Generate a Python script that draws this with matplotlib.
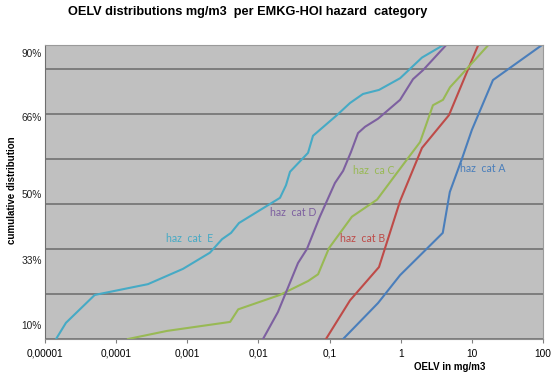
import numpy as np
import matplotlib.pyplot as plt

# OELV values (mg/m3) and cumulative distribution as normal z-score
cat_a_oelv = [0.155, 0.48, 0.98, 3.9, 4.9, 7.3, 10.0, 19.8, 97]
cat_a_z = [-1.64, -1.24, -0.93, -0.46, -0.005, 0.37, 0.685, 1.24, 1.63]

cat_b_oelv = [0.089, 0.194, 0.495, 0.98, 1.99, 4.77, 9.4, 12.6]
cat_b_z = [-1.64, -1.21, -0.84, -0.105, 0.485, 0.85, 1.41, 1.65]

cat_c_oelv = [0.000147, 0.00052, 0.0040, 0.0052, 0.020, 0.050, 0.069, 0.098, 0.206,
              0.465, 0.89, 1.87, 2.84, 3.93, 4.93, 7.76, 18.0]
cat_c_z = [-1.64, -1.55, -1.45, -1.31, -1.15, -0.995, -0.92, -0.63, -0.28,
           -0.09, 0.21, 0.55, 0.96, 1.02, 1.16, 1.33, 1.65]

cat_d_oelv = [0.0116, 0.0188, 0.0252, 0.036, 0.048, 0.073, 0.119, 0.155, 0.20,
              0.251, 0.315, 0.48, 0.98, 1.49, 2.06, 4.48]
cat_d_z = [-1.64, -1.34, -1.095, -0.795, -0.64, -0.28, 0.095, 0.23, 0.44,
           0.65, 0.72, 0.81, 1.02, 1.25, 1.35, 1.64]

cat_e_oelv = [1.43e-5, 1.97e-5, 5.0e-5, 2.8e-4, 8.7e-4, 0.00208, 0.00308, 0.00412,
              0.00533, 0.0201, 0.0244, 0.0278, 0.0498, 0.0585, 0.127, 0.194,
              0.295, 0.495, 0.98, 1.99, 4.2]
cat_e_z = [-1.64, -1.46, -1.15, -1.03, -0.86, -0.68, -0.53, -0.46,
           -0.35, -0.07, 0.07, 0.22, 0.43, 0.62, 0.85, 0.985,
           1.085, 1.13, 1.26, 1.49, 1.64]

x_ticks = [1e-5, 1e-4, 1e-3, 1e-2, 1e-1, 1, 10, 100]
x_labels = ["0,00001", "0,0001", "0,001", "0,01", "0,1", "1", "10", "100"]
grid_z = [-1.64, -1.14, -0.64, -0.14, 0.36, 0.86, 1.36]
pct_labels = ["90%", "66%", "50%", "33%", "10%"]
pct_pos_y = [54, 118, 195, 261, 326]   # pixel rows of the manual labels

series = [
    (cat_a_oelv, cat_a_z, "#4A7EBB", "haz  cat A", 483, 168),
    (cat_b_oelv, cat_b_z, "#BE4B48", "haz  cat B", 363, 239),
    (cat_c_oelv, cat_c_z, "#98B954", "haz  ca C", 374, 171),
    (cat_d_oelv, cat_d_z, "#7D60A0", "haz  cat D", 293, 213),
    (cat_e_oelv, cat_e_z, "#46AAC5", "haz  cat  E", 190, 239),
]

W, H = 557, 383
fig = plt.figure(figsize=(W / 100, H / 100), dpi=100)
ax = fig.add_axes([45 / W, 1 - 339 / H, 498 / W, (339 - 44.7) / H])
ax.set_facecolor("#C0C0C0")

for oelv, z, color, label, lx, ly in series:
    ax.plot(oelv, z, color=color, lw=1.5, solid_joinstyle="round")
    fig.text(lx / W, 1 - ly / H, label, color=color, fontsize=7.6,
             family="Lato", ha="center", va="center")

ax.set_xscale("log")
ax.set_xlim(1e-5, 100)
ax.set_ylim(-1.64, 1.633)
ax.set_xticks(x_ticks)
ax.set_xticklabels(x_labels, fontsize=7.3, family="Liberation Sans")
ax.minorticks_off()
ax.tick_params(axis="x", length=3, color="#808080", pad=4)
ax.set_yticks(grid_z)
ax.set_yticklabels([])
ax.tick_params(axis="y", length=0)
ax.grid(axis="y", color="#6A6A6A", lw=1.1)
ax.set_axisbelow(True)
for side in ["top", "right"]:
    ax.spines[side].set_color("#9A9A9A")
ax.spines["bottom"].set_color("#8C8C8C")
ax.spines["left"].set_color("#6E6E6E")

for lab, py in zip(pct_labels, pct_pos_y):
    fig.text(42 / W, 1 - py / H, lab, fontsize=7.3, family="Liberation Sans",
             ha="right", va="center", color="#222222")

fig.text(68 / W, 1 - 12 / H, "OELV distributions mg/m3  per EMKG-HOI hazard  category",
         fontsize=9.2, fontweight="bold", family="Liberation Sans", va="center")
fig.text(12 / W, 1 - 190 / H, "cumulative distribution", rotation=90, fontsize=7,
         fontweight="bold", family="Liberation Sans", ha="center", va="center")
fig.text(450 / W, 1 - 367 / H, "OELV in mg/m3", fontsize=7, fontweight="bold",
         family="Liberation Sans", ha="center", va="center")

fig.savefig("out.png", dpi=100)
